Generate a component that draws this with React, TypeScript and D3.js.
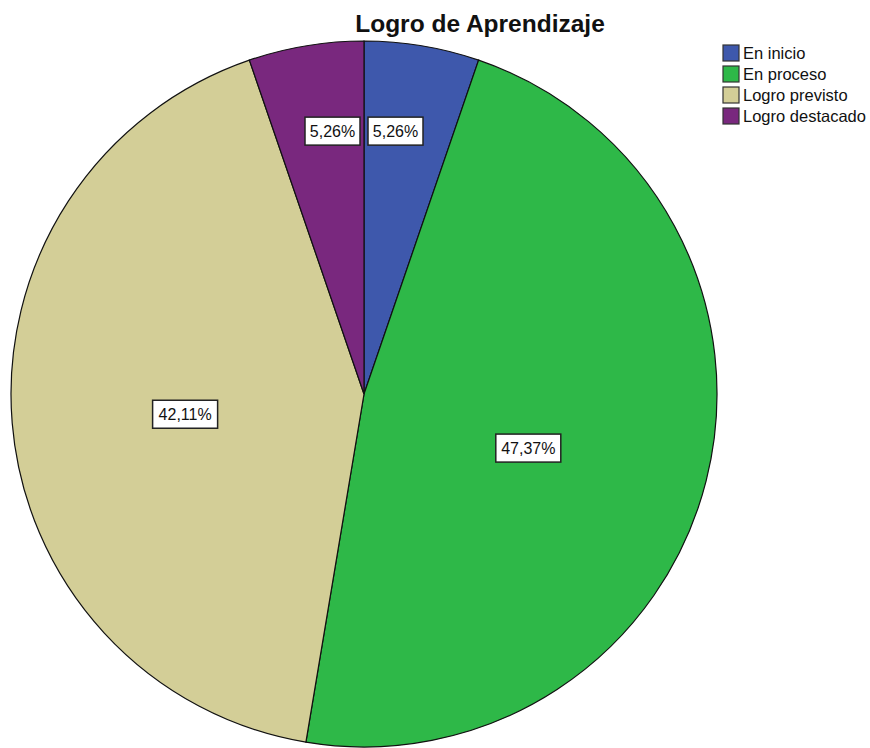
import React from "react";
import * as d3 from "d3";

const categories = ["En inicio", "En proceso", "Logro previsto", "Logro destacado"];
const counts = [1, 9, 8, 1];
const labels = ["5,26%", "47,37%", "42,11%", "5,26%"];
const colors = ["#3E58AC", "#2EB848", "#D3CE97", "#79287E"];
const title = "Logro de Aprendizaje";

const W = 870;
const H = 748;
const cx = 364;
const cy = 394;
const R = 353;
const FONT = "Arial, 'Liberation Sans', sans-serif";

export default function App() {
  const pie = d3.pie<number>().sort(null).value((d) => d)(counts);
  const arc = d3.arc<d3.PieArcDatum<number>>().innerRadius(0).outerRadius(R);
  const total = d3.sum(counts);

  const labelPos = pie.map((p, i) => {
    const frac = counts[i] / total;
    const mid = (p.startAngle + p.endAngle) / 2;
    if (frac < 0.1) {
      const r = 0.755 * R;
      const y = -r * Math.cos(mid);
      const boxW = 55;
      const side = Math.sin(mid) >= 0 ? 1 : -1;
      const x = side * (4 + boxW / 2);
      return [x, y];
    }
    const r = frac > 0.45 ? 0.49 * R : 0.51 * R;
    const a = mid + (frac > 0.45 ? 0.07 : -0.03);
    return [r * Math.sin(a), -r * Math.cos(a)];
  });

  return (
    <svg width={W} height={H} style={{ position: "absolute", left: 0, top: 0, background: "#fff" }}>
      <text x={480} y={32} textAnchor="middle" fontFamily={FONT} fontWeight="bold" fontSize={24.5} fill="#111">
        {title}
      </text>
      <g transform={`translate(${cx},${cy})`}>
        {pie.map((p, i) => (
          <path key={i} d={arc(p) || ""} fill={colors[i]} stroke="#111" strokeWidth={1.2} />
        ))}
        {pie.map((p, i) => {
          const [x, y] = labelPos[i];
          const w = labels[i].length > 5 ? 65 : 55;
          const h = 28;
          return (
            <g key={"l" + i} transform={`translate(${x},${y})`}>
              <rect x={-w / 2} y={-h / 2} width={w} height={h} fill="#fff" stroke="#222" strokeWidth={1.5} />
              <text x={0} y={6} textAnchor="middle" fontFamily={FONT} fontSize={16} fill="#111">
                {labels[i]}
              </text>
            </g>
          );
        })}
      </g>
      <g>
        {categories.map((c, i) => (
          <g key={c} transform={`translate(723,${45 + i * 21})`}>
            <rect x={0} y={0} width={16} height={16} fill={colors[i]} stroke="#333" strokeWidth={1.2} />
            <text x={20} y={14} fontFamily={FONT} fontSize={16.5} fill="#111">
              {c}
            </text>
          </g>
        ))}
      </g>
    </svg>
  );
}
